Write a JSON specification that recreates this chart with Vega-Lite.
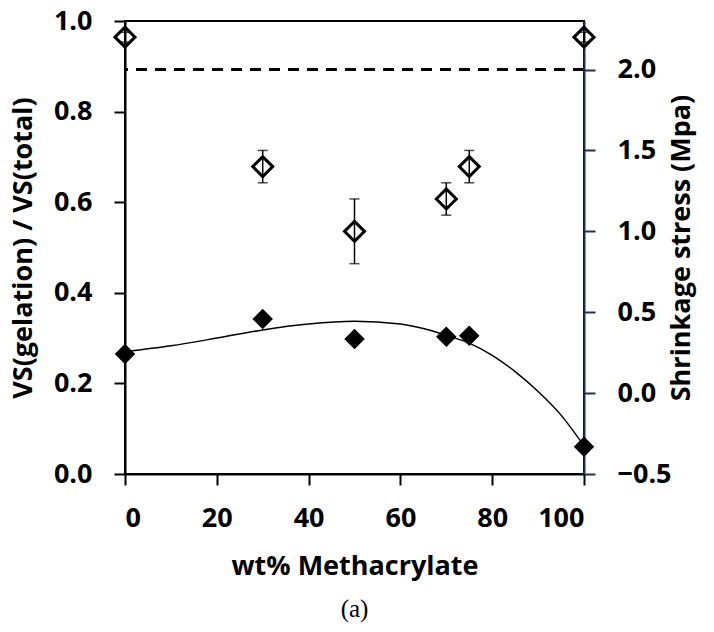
{
  "$schema": "https://vega.github.io/schema/vega-lite/v6.json",
  "autosize": {"type": "none"},
  "padding": {"left": 125, "top": 21, "right": 130, "bottom": 158},
  "width": 459,
  "height": 453,
  "background": "white",
  "config": {
    "view": {"stroke": "black", "strokeWidth": 2},
    "font": "Open Sans",
    "axis": {
      "grid": false,
      "labelFont": "Open Sans",
      "labelFontWeight": "bold",
      "labelFontSize": 27,
      "labelColor": "black",
      "titleFont": "Open Sans",
      "titleFontWeight": "bold",
      "titleFontSize": 27,
      "titleColor": "black",
      "domainColor": "black",
      "domainWidth": 2,
      "tickColor": "black",
      "tickWidth": 2,
      "tickSize": 11
    }
  },
  "title": {
    "text": "(a)",
    "orient": "bottom",
    "anchor": "middle",
    "font": "Liberation Serif",
    "fontSize": 25,
    "fontWeight": "normal",
    "color": "black",
    "offset": 18
  },
  "datasets": {
    "filled": [
      {"wt": 0, "vs": 0.265},
      {"wt": 30, "vs": 0.342},
      {"wt": 50, "vs": 0.298},
      {"wt": 70, "vs": 0.303},
      {"wt": 75, "vs": 0.305},
      {"wt": 100, "vs": 0.06}
    ],
    "trend": [
      {"wt": 0, "vs": 0.27},
      {"wt": 10, "vs": 0.283},
      {"wt": 20, "vs": 0.3},
      {"wt": 30, "vs": 0.318},
      {"wt": 40, "vs": 0.331},
      {"wt": 50, "vs": 0.337},
      {"wt": 60, "vs": 0.331},
      {"wt": 65, "vs": 0.321},
      {"wt": 70, "vs": 0.306},
      {"wt": 75, "vs": 0.289},
      {"wt": 80, "vs": 0.262},
      {"wt": 85, "vs": 0.226},
      {"wt": 90, "vs": 0.182},
      {"wt": 95, "vs": 0.13},
      {"wt": 100, "vs": 0.062}
    ],
    "stress": [
      {"wt": 0, "stress": 2.2, "lo": 2.17, "hi": 2.23},
      {"wt": 30, "stress": 1.4, "lo": 1.3, "hi": 1.5},
      {"wt": 50, "stress": 1.0, "lo": 0.8, "hi": 1.2},
      {"wt": 70, "stress": 1.2, "lo": 1.1, "hi": 1.3},
      {"wt": 75, "stress": 1.4, "lo": 1.3, "hi": 1.5},
      {"wt": 100, "stress": 2.2, "lo": 2.17, "hi": 2.23}
    ],
    "ref": [{"stress": 2.0}]
  },
  "layer": [
    {
      "encoding": {
        "y": {
          "field": "vs",
          "type": "quantitative",
          "scale": {"domain": [0, 1], "nice": false},
          "axis": {
            "orient": "left",
            "values": [0, 0.2, 0.4, 0.6, 0.8, 1.0],
            "format": ".1f",
            "tickSize": 11,
            "labelPadding": 22,
            "titlePadding": 16,
            "title": "VS(gelation) / VS(total)"
          },
          "title": "VS(gelation) / VS(total)"
        }
      },
      "layer": [
        {
          "data": {"name": "trend"},
          "mark": {"type": "line", "color": "black", "strokeWidth": 1.5, "interpolate": "monotone"},
          "encoding": {
            "x": {
              "field": "wt",
              "type": "quantitative",
              "scale": {"domain": [0, 100], "nice": false},
              "axis": {
                "values": [0, 20, 40, 60, 80, 100],
                "tickSize": 11,
                "labelPadding": 20,
                "titlePadding": 22,
                "title": "wt% Methacrylate"
              },
              "title": "wt% Methacrylate"
            }
          }
        },
        {
          "data": {"name": "filled"},
          "mark": {"type": "point", "shape": "diamond", "filled": true, "color": "black", "size": 420, "opacity": 1},
          "encoding": {
            "x": {"field": "wt", "type": "quantitative", "title": "wt% Methacrylate"}
          }
        }
      ]
    },
    {
      "layer": [
        {
          "data": {"name": "ref"},
          "mark": {"type": "rule", "color": "black", "strokeWidth": 3, "strokeDash": [11, 8]},
          "encoding": {
            "y": {
              "field": "stress",
              "type": "quantitative",
              "scale": {"domain": [-0.5, 2.3], "nice": false, "zero": false},
              "title": "Shrinkage stress (Mpa)"
            }
          }
        },
        {
          "data": {"name": "stress"},
          "mark": {
            "type": "errorbar",
            "color": "black",
            "ticks": {"size": 10, "thickness": 1.5},
            "rule": {"strokeWidth": 1.5}
          },
          "encoding": {
            "x": {"field": "wt", "type": "quantitative", "title": "wt% Methacrylate"},
            "y": {
              "field": "lo",
              "type": "quantitative",
              "scale": {"domain": [-0.5, 2.3], "nice": false, "zero": false},
              "title": "Shrinkage stress (Mpa)"
            },
            "y2": {"field": "hi"}
          }
        },
        {
          "data": {"name": "stress"},
          "mark": {"type": "point", "shape": "diamond", "filled": false, "color": "black", "strokeWidth": 3, "size": 400, "opacity": 1},
          "encoding": {
            "x": {"field": "wt", "type": "quantitative", "title": "wt% Methacrylate"},
            "y": {
              "field": "stress",
              "type": "quantitative",
              "scale": {"domain": [-0.5, 2.3], "nice": false, "zero": false},
              "axis": {
                "orient": "right",
                "values": [-0.5, 0, 0.5, 1.0, 1.5, 2.0],
                "format": ".1f",
                "domainColor": "#1f3350",
                "tickColor": "#1f3350",
                "tickSize": 11,
                "labelPadding": 22,
                "titlePadding": 24,
                "titleAngle": 270,
                "title": "Shrinkage stress (Mpa)"
              },
              "title": "Shrinkage stress (Mpa)"
            }
          }
        }
      ]
    }
  ],
  "resolve": {"scale": {"y": "independent"}, "axis": {"y": "independent"}}
}
